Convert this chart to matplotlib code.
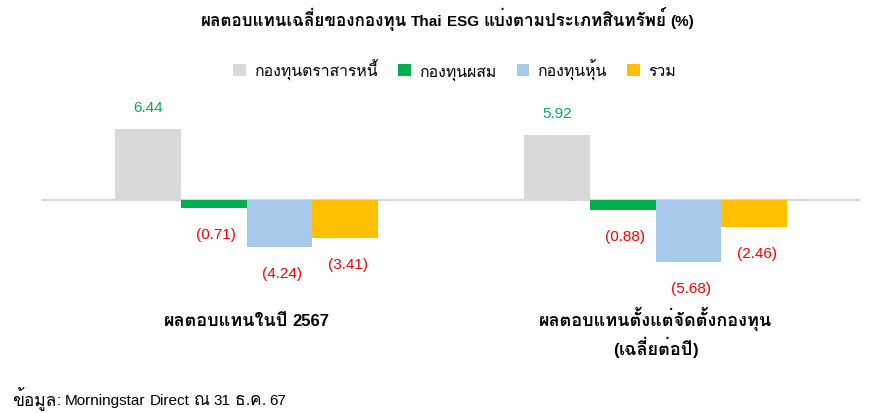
import matplotlib
matplotlib.use("Agg")
import matplotlib.pyplot as plt
import matplotlib.font_manager as fm
import matplotlib.transforms as mtransforms
import matplotlib.patheffects as pe
from matplotlib.font_manager import FontProperties
from matplotlib.ft2font import FT2Font
from matplotlib.patches import Patch

# ---- data ----
categories = ["ผลตอบแทนในปี 2567", "ผลตอบแทนตั้งแต่จัดตั้งกองทุน\n(เฉลี่ยต่อปี)"]
series_names = ["กองทุนตราสารหนี้", "กองทุนผสม", "กองทุนหุ้น", "รวม"]
fixed_income = [6.44, 5.92]
mixed = [-0.71, -0.88]
equity = [-4.24, -5.68]
total = [-3.41, -2.46]
title = "ผลตอบแทนเฉลี่ยของกองทุน Thai ESG แบ่งตามประเภทสินทรัพย์ (%)"
source = "ข้อมูล: Morningstar Direct ณ 31 ธ.ค. 67"

# ---- fonts: find a family with Thai glyphs ----
thai_cands = {}
for f in fm.fontManager.ttflist:
    try:
        cmap = FT2Font(f.fname).get_charmap()
    except Exception:
        continue
    if 0x0E01 in cmap and 0x0E49 in cmap:
        w = f.weight if isinstance(f.weight, int) else fm.weight_dict.get(f.weight, 400)
        thai_cands.setdefault(f.name, set()).add(w)
thai_font = None
for cand in ["Tahoma", "Loma", "Noto Sans Thai", "Noto Sans Thai UI", "Garuda", "Sarabun"]:
    if cand in thai_cands:
        thai_font = cand
        break
if thai_font is None and thai_cands:
    thai_font = sorted(thai_cands)[0]
thai_has_bold = thai_font is not None and any(w >= 600 for w in thai_cands[thai_font])
THAI = ([thai_font] if thai_font else []) + ["DejaVu Sans"]


def latin_file(bold):
    for f in fm.fontManager.ttflist:
        fn = f.fname.lower()
        if f.name == "Liberation Sans" and "narrow" not in fn and "italic" not in fn:
            w = f.weight if isinstance(f.weight, int) else fm.weight_dict.get(f.weight, 400)
            if f.style == "normal" and ((w >= 600) == bold):
                return f.fname
    return None


LAT_REG = latin_file(False)
LAT_BOLD = latin_file(True)


def latin_prop(size, bold=False):
    path = LAT_BOLD if bold else LAT_REG
    if path:
        return FontProperties(fname=path, size=size)
    return FontProperties(family="DejaVu Sans", size=size, weight="bold" if bold else "normal")


plt.rcParams["font.family"] = THAI

colors = ["#d9d9d9", "#00b050", "#a9c9ea", "#ffc000"]
series = [fixed_income, mixed, equity, total]

W, H = 873, 414
fig = plt.figure(figsize=(W / 100, H / 100), dpi=100)
ax_top, ax_bot = 90, 300
ax = fig.add_axes([42 / W, (H - ax_bot) / H, (860 - 42) / W, (ax_bot - ax_top) / H])
zero_px = 201
ppu = 11.0
ax.set_ylim(-(ax_bot - zero_px) / ppu, (zero_px - ax_top) / ppu)
ax.set_xlim(-0.5, 1.5)

LAT_SIZE = 11
THAI_SIZE = 13.0


def is_thai(ch):
    return 0x0E00 <= ord(ch) <= 0x0E7F


def mixed_text(x_px, y_base_px, s, latin_size=LAT_SIZE, thai_size=THAI_SIZE, bold=False,
               color="black", ha="center"):
    renderer = fig.canvas.get_renderer()
    runs = []
    for ch in s:
        kind = "sp" if ch == " " else ("th" if is_thai(ch) else "la")
        if runs and runs[-1][1] == kind:
            runs[-1][0] += ch
        else:
            runs.append([ch, kind])
    items = []
    total_w = 0.0
    for txt, kind in runs:
        if kind == "sp":
            w = 0.278 * latin_size * 100 / 72 * len(txt)
            items.append((None, w))
        else:
            if kind == "th":
                fp = FontProperties(family=THAI, size=thai_size, weight="bold" if bold else "normal")
            else:
                fp = latin_prop(latin_size, bold)
            effects = []
            if kind == "th" and bold and not thai_has_bold:
                effects = [pe.Stroke(linewidth=0.9, foreground=color), pe.Normal()]
            t = fig.text(0, 0, txt, fontproperties=fp, color=color, ha="left", va="baseline",
                         transform=mtransforms.IdentityTransform(), path_effects=effects)
            w = t.get_window_extent(renderer).width
            items.append((t, w))
        total_w += w
    x0 = x_px - total_w / 2 if ha == "center" else x_px
    cur = x0
    for t, w in items:
        if t is not None:
            t.set_position((cur, H - y_base_px))
        cur += w


bw = 0.161
offsets = [-1.5 * bw, -0.5 * bw, 0.5 * bw, 1.5 * bw]
for vals, col, off in zip(series, colors, offsets):
    xs = [i + off for i in range(len(categories))]
    ax.bar(xs, vals, width=bw, color=col, zorder=2)
    for x, v in zip(xs, vals):
        if v >= 0:
            ax.annotate(f"{v:.2f}", (x, v), xytext=(0, 22), textcoords="offset pixels",
                        ha="center", va="center", color="#00b050",
                        fontproperties=latin_prop(LAT_SIZE))
        else:
            ax.annotate(f"({abs(v):.2f})", (x + 0.006, v), xytext=(0, -26), textcoords="offset pixels",
                        ha="center", va="center", color="#ff0000",
                        fontproperties=latin_prop(LAT_SIZE))

ax.axhline(0, color="#d9d9d9", linewidth=1.6, zorder=1)
for s in ax.spines.values():
    s.set_visible(False)
ax.set_xticks([])
ax.set_yticks([])

fig.canvas.draw()
for i, cat in enumerate(categories):
    xpx = ax.transData.transform((i, 0))[0]
    for j, ln in enumerate(cat.split("\n")):
        mixed_text(xpx, 326 + 29 * j, ln, latin_size=12, bold=True)

mixed_text(447.5, 26, title, latin_size=11, thai_size=12.3, bold=True)
mixed_text(12, 405, source, latin_size=11, thai_size=12.5, ha="left")

handles = [Patch(facecolor=c, edgecolor="none") for c in colors]
fig.legend(handles, series_names, loc="center", bbox_to_anchor=(454.5 / W, 1 - 70 / H), ncol=4,
           frameon=False, prop=FontProperties(family=THAI, size=11.4), handlelength=0.8,
           handleheight=0.8, handletextpad=0.5, columnspacing=1.3)

fig.savefig("out.png", dpi=100)
